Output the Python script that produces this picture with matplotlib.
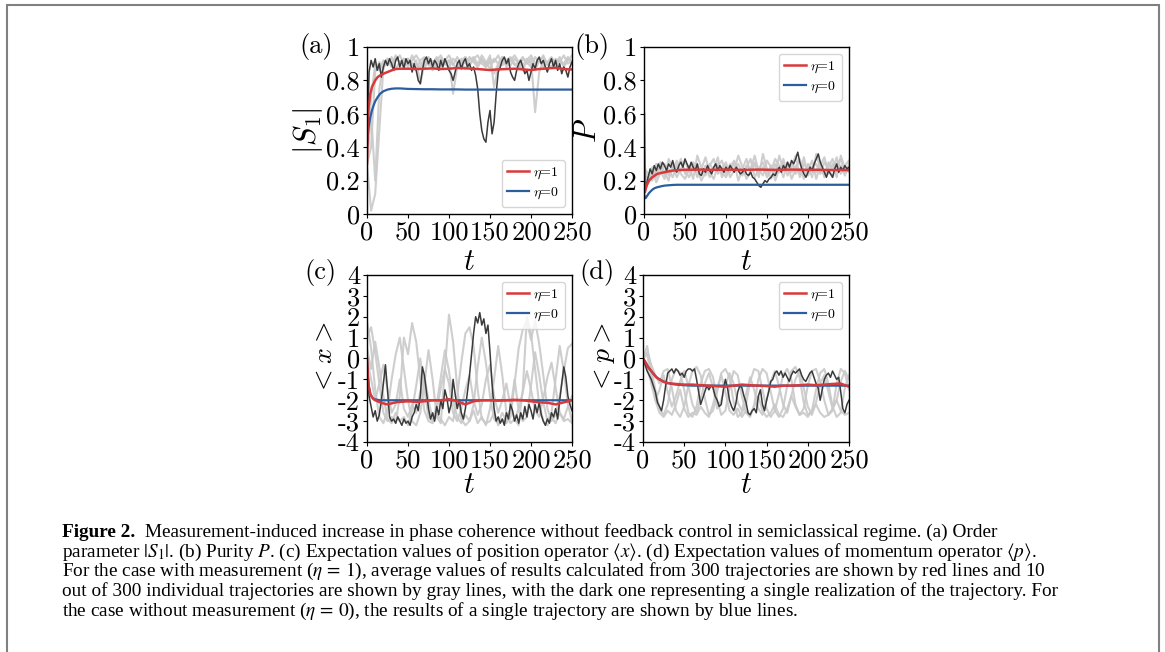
import numpy as np
import matplotlib
matplotlib.use('Agg')
import matplotlib.pyplot as plt
from matplotlib.patches import Rectangle

# ---------------- data ----------------
t_mean = [0, 1, 2, 4, 6, 8, 10, 13, 16, 20, 25, 30, 35, 40,
          50, 60, 70, 80, 90, 100, 110, 120, 130, 140, 150,
          160, 170, 180, 190, 200, 210, 220, 230, 240, 250]

# (a) order parameter |S1|
S1_red = [0.30, 0.55, 0.64, 0.72, 0.76, 0.78, 0.80, 0.82, 0.83, 0.84, 0.85, 0.86, 0.868, 0.87,
          0.87, 0.868, 0.87, 0.872, 0.868, 0.87, 0.874, 0.872, 0.87, 0.866, 0.862,
          0.866, 0.868, 0.87, 0.866, 0.862, 0.868, 0.872, 0.875, 0.868, 0.865]
S1_blue = [0.40, 0.47, 0.52, 0.58, 0.62, 0.65, 0.675, 0.70, 0.72, 0.735, 0.745, 0.75, 0.752, 0.752,
           0.749, 0.748, 0.747, 0.747, 0.746, 0.746, 0.746, 0.745, 0.745, 0.745, 0.745,
           0.745, 0.745, 0.745, 0.745, 0.745, 0.745, 0.745, 0.745, 0.745, 0.745]
S1_dark = [0.35, 0.85, 0.92, 0.88, 0.93, 0.86, 0.90, 0.82, 0.88, 0.92,
           0.89, 0.93, 0.90, 0.86, 0.92, 0.94, 0.88, 0.92, 0.87, 0.93,
           0.90, 0.92, 0.85, 0.90, 0.86, 0.80, 0.78, 0.86, 0.92, 0.94,
           0.90, 0.93, 0.88, 0.92, 0.90, 0.86, 0.92, 0.88, 0.93, 0.90,
           0.86, 0.84, 0.80, 0.85, 0.90, 0.92, 0.87, 0.91, 0.93, 0.88,
           0.90, 0.86, 0.88, 0.83, 0.75, 0.60, 0.50, 0.45, 0.43, 0.55,
           0.62, 0.48, 0.55, 0.72, 0.85, 0.88, 0.92, 0.94, 0.90, 0.93,
           0.85, 0.82, 0.80, 0.86, 0.90, 0.92, 0.88, 0.84, 0.86, 0.80,
           0.85, 0.90, 0.87, 0.92, 0.94, 0.90, 0.92, 0.88, 0.85, 0.90,
           0.93, 0.88, 0.92, 0.86, 0.90, 0.84, 0.88, 0.86, 0.82, 0.88,
           0.91]
S1_gray = [
    [0.30, 0.02, 0.12, 0.50, 0.88, 0.92, 0.90, 0.94, 0.91, 0.88,
     0.93, 0.90, 0.86, 0.92, 0.94, 0.89, 0.91, 0.93, 0.88, 0.90,
     0.92, 0.72, 0.88, 0.93, 0.90, 0.94, 0.91, 0.88, 0.92, 0.90,
     0.95, 0.76, 0.88, 0.92, 0.90, 0.93, 0.89, 0.91, 0.94, 0.90,
     0.93, 0.61, 0.85, 0.92, 0.90, 0.93, 0.88, 0.92, 0.90, 0.94,
     0.91],
    [0.30, 0.60, 0.20, 0.75, 0.90, 0.93, 0.88, 0.92, 0.95, 0.90,
     0.93, 0.89, 0.92, 0.78, 0.90, 0.94, 0.91, 0.88, 0.93, 0.90,
     0.92, 0.89, 0.94, 0.90, 0.87, 0.92, 0.94, 0.90, 0.93, 0.88,
     0.91, 0.84, 0.90, 0.94, 0.92, 0.89, 0.93, 0.90, 0.86, 0.92,
     0.95, 0.90, 0.93, 0.88, 0.91, 0.94, 0.90, 0.92, 0.89, 0.93,
     0.90],
    [0.30, 0.40, 0.85, 0.91, 0.87, 0.93, 0.89, 0.95, 0.90, 0.93,
     0.88, 0.92, 0.95, 0.91, 0.87, 0.93, 0.90, 0.94, 0.89, 0.92,
     0.95, 0.90, 0.87, 0.92, 0.94, 0.89, 0.93, 0.95, 0.90, 0.88,
     0.93, 0.91, 0.95, 0.89, 0.92, 0.94, 0.90, 0.87, 0.93, 0.91,
     0.88, 0.94, 0.91, 0.95, 0.89, 0.92, 0.90, 0.94, 0.88, 0.92,
     0.95],
    [0.30, 0.70, 0.90, 0.86, 0.92, 0.89, 0.94, 0.87, 0.91, 0.93,
     0.89, 0.95, 0.90, 0.88, 0.93, 0.91, 0.86, 0.92, 0.95, 0.90,
     0.88, 0.93, 0.91, 0.87, 0.94, 0.90, 0.92, 0.89, 0.95, 0.91,
     0.87, 0.93, 0.90, 0.94, 0.88, 0.92, 0.95, 0.91, 0.89, 0.93,
     0.90, 0.86, 0.92, 0.94, 0.90, 0.88, 0.93, 0.91, 0.95, 0.90,
     0.92],
]

# (b) purity P
P_red = [0.60, 0.13, 0.15, 0.18, 0.20, 0.21, 0.22, 0.23, 0.24, 0.245, 0.25, 0.255, 0.26, 0.262,
         0.265, 0.265, 0.266, 0.264, 0.265, 0.266, 0.265, 0.264, 0.265, 0.266, 0.265,
         0.264, 0.265, 0.266, 0.265, 0.264, 0.265, 0.264, 0.263, 0.264, 0.262]
P_blue = [0.12, 0.10, 0.095, 0.11, 0.125, 0.135, 0.145, 0.155, 0.16, 0.165, 0.17, 0.172, 0.174, 0.175,
          0.175, 0.175, 0.175, 0.175, 0.175, 0.175, 0.175, 0.175, 0.175, 0.175, 0.175,
          0.175, 0.175, 0.175, 0.175, 0.175, 0.175, 0.175, 0.175, 0.175, 0.175]
P_dark = [0.20, 0.17, 0.22, 0.27, 0.24, 0.29, 0.26, 0.30, 0.27, 0.31,
          0.29, 0.26, 0.30, 0.28, 0.32, 0.27, 0.25, 0.29, 0.31, 0.28,
          0.33, 0.30, 0.27, 0.31, 0.28, 0.26, 0.30, 0.24, 0.23, 0.27,
          0.25, 0.29, 0.26, 0.24, 0.28, 0.30, 0.26, 0.29, 0.27, 0.25,
          0.28, 0.26, 0.29, 0.27, 0.25, 0.28, 0.26, 0.24, 0.25, 0.27,
          0.24, 0.23, 0.25, 0.22, 0.21, 0.19, 0.17, 0.16, 0.18, 0.20,
          0.19, 0.21, 0.22, 0.24, 0.23, 0.26, 0.28, 0.25, 0.29, 0.27,
          0.31, 0.28, 0.32, 0.30, 0.33, 0.37, 0.31, 0.27, 0.24, 0.22,
          0.25, 0.28, 0.26, 0.30, 0.33, 0.36, 0.31, 0.28, 0.25, 0.22,
          0.26, 0.24, 0.22, 0.27, 0.30, 0.25, 0.28, 0.26, 0.29, 0.27,
          0.28]
P_gray = [
    [0.25, 0.20, 0.28, 0.22, 0.31, 0.25, 0.20, 0.30, 0.27, 0.33,
     0.24, 0.29, 0.21, 0.35, 0.28, 0.23, 0.30, 0.26, 0.34, 0.22,
     0.29, 0.25, 0.31, 0.20, 0.27, 0.33, 0.24, 0.30, 0.22, 0.36,
     0.27, 0.21, 0.30, 0.25, 0.33, 0.23, 0.28, 0.35, 0.22, 0.30,
     0.26, 0.32, 0.21, 0.29, 0.34, 0.24, 0.30, 0.22, 0.35, 0.27,
     0.25],
    [0.30, 0.18, 0.24, 0.30, 0.26, 0.21, 0.33, 0.28, 0.22, 0.27,
     0.32, 0.25, 0.30, 0.22, 0.27, 0.34, 0.25, 0.21, 0.29, 0.32,
     0.24, 0.30, 0.26, 0.35, 0.28, 0.21, 0.26, 0.31, 0.27, 0.23,
     0.32, 0.28, 0.24, 0.35, 0.26, 0.30, 0.21, 0.27, 0.33, 0.25,
     0.29, 0.22, 0.36, 0.27, 0.23, 0.31, 0.26, 0.34, 0.24, 0.29,
     0.32],
    [0.20, 0.22, 0.27, 0.19, 0.25, 0.30, 0.23, 0.26, 0.32, 0.24,
     0.21, 0.27, 0.31, 0.26, 0.20, 0.25, 0.29, 0.33, 0.24, 0.27,
     0.31, 0.22, 0.26, 0.30, 0.24, 0.28, 0.33, 0.22, 0.27, 0.31,
     0.24, 0.29, 0.20, 0.27, 0.30, 0.26, 0.32, 0.24, 0.27, 0.21,
     0.30, 0.27, 0.25, 0.31, 0.22, 0.28, 0.33, 0.25, 0.29, 0.23,
     0.30],
    [0.28, 0.24, 0.20, 0.26, 0.29, 0.24, 0.27, 0.22, 0.29, 0.31,
     0.26, 0.22, 0.28, 0.30, 0.24, 0.29, 0.22, 0.27, 0.30, 0.25,
     0.22, 0.28, 0.32, 0.26, 0.23, 0.29, 0.27, 0.35, 0.25, 0.28,
     0.22, 0.26, 0.33, 0.29, 0.22, 0.31, 0.25, 0.29, 0.24, 0.34,
     0.23, 0.28, 0.30, 0.24, 0.31, 0.27, 0.22, 0.30, 0.33, 0.25,
     0.28],
]

# (c) position <x>
X_red = [0.0, -0.8, -1.3, -1.7, -1.85, -1.95, -2.0, -2.05, -2.1, -2.15, -2.2, -2.15, -2.1, -2.08,
         -2.05, -2.08, -2.05, -2.0, -2.0, -1.95, -2.05, -2.2, -2.05, -2.0, -2.0,
         -2.02, -2.0, -1.98, -2.0, -2.05, -2.1, -2.12, -2.2, -2.1, -2.0]
X_blue = [0.0, -0.8, -1.3, -1.7, -1.85, -1.92, -1.96, -1.98, -2.0, -2.0, -2.0, -2.0, -2.0, -2.0,
          -2.0, -2.0, -2.0, -2.0, -2.0, -2.0, -2.0, -2.0, -2.0, -2.0, -2.0,
          -2.0, -2.0, -2.0, -2.0, -2.0, -2.0, -2.0, -2.0, -2.0, -2.0]
X_dark = [-0.3, -1.8, -2.3, -2.8, -2.5, -3.0, -2.7, -2.0, -1.2, -0.3,
          -1.5, -2.8, -3.0, -2.9, -3.1, -2.8, -3.0, -3.2, -2.9, -3.1,
          -3.0, -3.2, -2.8, -2.6, -2.2, -2.5, -1.8, -0.4, -0.8, -1.6,
          -2.4, -2.9, -2.6, -3.0, -2.3, -2.7, -2.0, -2.4, -1.5, -1.9,
          -2.6, -2.2, -1.0, -1.7, -2.4, -2.0, -2.6, -2.9, -2.4, -1.6,
          -0.8, 0.2, 1.2, 2.0, 1.7, 2.2, 1.6, 1.9, 1.2, 1.6,
          0.3, -1.2, -2.4, -3.0, -2.8, -3.1, -2.9, -3.2, -2.6, -2.9,
          -2.2, -2.5, -3.0, -2.7, -3.1, -2.6, -2.9, -2.3, -2.8, -2.2,
          -2.5, -2.9, -2.2, -2.6, -2.1, -2.7, -3.0, -3.2, -2.9, -3.1,
          -2.6, -2.8, -2.4, -2.9, -2.0, -1.2, -0.4, -0.9, -1.8, -2.2,
          -2.5]
X_gray = [
    [1.8, 0.5, -1.5, -2.8, -3.1, -2.5, -1.0, 0.2, 1.0, -0.5,
     -2.0, -3.0, -3.2, -2.6, -1.2, 0.4, -1.0, -2.8, -3.1, -0.5,
     2.1, 0.8, -1.4, -2.9, -3.2, -3.0, -2.5, -3.1, -2.8, -3.2,
     -2.4, -1.0, 0.6, -0.8, -2.6, -3.1, -2.9, -3.2, -1.5, 2.0,
     1.2, -0.5, -2.2, -3.0, -3.2, -2.8, -3.1, -2.6, -3.0, -2.9,
     -3.1],
    [1.0, 1.5, 0.3, -1.2, -2.6, -3.0, -2.8, -3.1, -1.8, 1.0,
     0.2, 1.7, 0.8, -1.0, -2.5, -3.0, -3.1, -2.7, -2.9, -3.2,
     -2.8, -3.0, -1.8, -0.2, 1.2, 1.5, 0.6, -1.5, -2.9, -3.1,
     -3.0, -2.6, -3.2, -2.9, -3.1, -2.8, -1.2, 0.5, 1.4, 1.8,
     0.9, 1.8, 0.7, -0.8, -2.4, -3.0, -2.7, -1.8, -0.6, 0.5,
     0.7],
    [0.0, -1.0, -2.0, -1.2, -0.3, -1.5, -2.6, -2.2, -1.0, -2.4,
     -2.8, -2.2, -2.6, -1.6, -0.8, -2.0, -2.9, -2.5, -1.4, -0.5,
     -1.2, -2.6, -3.0, -2.4, -1.5, -0.8, -2.0, -2.7, -2.2, -1.0,
     -0.3, -1.8, -2.6, -2.0, -1.2, -2.3, -2.9, -2.4, -1.6, -0.6,
     -1.5, -2.5, -2.8, -1.9, -0.9, -0.2, -1.4, -2.6, -2.9, -2.3,
     -1.8],
    [0.5, -0.5, 0.8, -0.4, -1.8, -2.9, -3.1, -2.6, -3.0, -2.8,
     -3.2, -2.5, -1.3, 0.0, -1.5, -2.8, -3.0, -2.2, -0.9, 0.4,
     -0.6, -2.0, -2.8, -3.1, -2.7, -3.0, -2.2, -0.4, 1.0, -0.2,
     -1.8, -2.9, -3.1, -2.6, -3.0, -2.4, -1.0, -2.5, -3.0, -2.8,
     -1.3, 0.3, -0.8, -2.1, -3.0, -2.6, -1.0, 0.6, -0.6, -2.2,
     -3.0],
]

# (d) momentum <p>
Pm_red = [0.0, -0.05, -0.12, -0.25, -0.4, -0.5, -0.6, -0.75, -0.9, -1.0, -1.12, -1.18, -1.2, -1.22,
          -1.25, -1.25, -1.28, -1.3, -1.33, -1.35, -1.3, -1.25, -1.28, -1.3, -1.32,
          -1.35, -1.3, -1.3, -1.28, -1.25, -1.28, -1.25, -1.22, -1.2, -1.35]
Pm_blue = [0.0, -0.05, -0.12, -0.25, -0.4, -0.5, -0.6, -0.75, -0.88, -1.0, -1.1, -1.17, -1.22, -1.25,
           -1.28, -1.3, -1.3, -1.3, -1.3, -1.3, -1.3, -1.3, -1.3, -1.3, -1.3,
           -1.3, -1.3, -1.3, -1.3, -1.3, -1.3, -1.3, -1.3, -1.3, -1.3]
Pm_dark = [0.0, -0.3, -0.6, -0.8, -1.0, -1.3, -1.6, -2.1, -2.3, -2.5,
           -2.0, -1.3, -0.7, -0.6, -0.5, -0.7, -0.5, -0.6, -0.8, -0.7,
           -0.9, -0.6, -0.5, -0.5, -0.6, -0.5, -1.0, -1.6, -2.2, -1.9,
           -1.6, -1.3, -1.5, -1.3, -1.4, -1.8, -2.0, -2.3, -2.2, -1.5,
           -1.0, -1.4, -2.0, -2.3, -2.5, -2.2, -1.6, -1.3, -1.4, -1.8,
           -2.1, -2.6, -2.7, -2.5, -2.4, -2.6, -1.8, -1.5, -2.2, -2.5,
           -2.0, -1.6, -1.1, -1.0, -0.7, -0.6, -0.8, -0.6, -0.9, -0.7,
           -0.9, -1.1, -0.8, -0.6, -0.7, -0.6, -0.5, -0.8, -1.0, -1.1,
           -0.9, -0.7, -0.6, -0.9, -1.2, -1.4, -2.0, -1.5, -1.0, -0.8,
           -0.7, -0.9, -0.6, -0.8, -1.0, -0.9, -1.6, -2.4, -2.6, -2.2,
           -2.0]
Pm_gray = [
    [0.0, 0.6, -0.5, -1.5, -2.4, -2.7, -2.2, -1.0, -0.5, -0.7,
     -1.5, -2.6, -2.8, -2.3, -1.2, -0.6, -0.5, -0.9, -2.0, -2.7,
     -2.5, -1.4, -0.6, -0.8, -1.8, -2.6, -2.8, -2.2, -1.0, -0.5,
     -0.7, -1.6, -2.5, -2.8, -2.4, -1.3, -0.6, -0.4, -0.9, -2.1,
     -2.7, -2.5, -1.5, -0.7, -0.5, -1.2, -2.3, -2.8, -2.6, -1.4,
     -0.8],
    [0.0, 0.3, -0.3, -0.8, -1.2, -0.6, -0.5, -1.4, -2.5, -2.8,
     -2.3, -1.3, -0.6, -0.4, -0.8, -1.9, -2.7, -2.5, -1.6, -0.7,
     -0.5, -0.9, -2.1, -2.8, -2.6, -2.2, -1.1, -0.5, -0.6, -1.5,
     -2.4, -2.8, -2.5, -1.7, -0.8, -0.5, -1.0, -2.2, -2.7, -2.4,
     -1.3, -0.6, -0.5, -1.1, -2.0, -2.7, -2.5, -1.2, -0.5, -0.7,
     -1.5],
    [0.0, -0.4, -1.2, -2.0, -1.5, -0.8, -1.6, -2.3, -1.8, -1.1,
     -0.6, -1.3, -2.2, -2.6, -1.9, -1.2, -0.7, -1.4, -2.4, -2.0,
     -1.3, -0.7, -1.2, -2.1, -2.5, -1.7, -0.9, -1.5, -2.4, -2.7,
     -2.0, -1.1, -0.6, -1.3, -2.2, -2.6, -1.8, -1.0, -0.6, -1.4,
     -2.3, -2.7, -2.1, -1.2, -0.8, -1.6, -2.4, -2.0, -1.1, -0.6,
     -1.0],
    [0.0, 0.2, -0.8, -2.0, -2.6, -2.8, -2.5, -2.7, -2.2, -1.5,
     -2.4, -2.8, -2.6, -2.7, -2.3, -2.6, -2.8, -2.2, -1.4, -0.8,
     -1.6, -2.5, -2.7, -2.4, -2.8, -2.5, -2.7, -2.3, -1.8, -2.5,
     -2.8, -2.6, -2.2, -2.7, -2.8, -2.4, -1.8, -2.3, -2.7, -2.6,
     -2.8, -2.5, -2.2, -2.6, -2.8, -2.7, -2.4, -2.0, -2.5, -2.7,
     -2.6],
]

x_ticks = [0, 50, 100, 150, 200, 250]
x_ticklabels = ['0', '50', '100', '150', '200', '250']
y_ticks_ab = [0, 0.2, 0.4, 0.6, 0.8, 1.0]
y_ticklabels_ab = ['0', '0.2', '0.4', '0.6', '0.8', '1']
y_ticks_cd = [-4, -3, -2, -1, 0, 1, 2, 3, 4]
y_ticklabels_cd = ['-4', '-3', '-2', '-1', '0', '1', '2', '3', '4']
legend_labels = [r'$\eta$=1', r'$\eta$=0']

caption_bold = 'Figure 2.'
caption_lines = [
    'Measurement-induced increase in phase coherence without feedback control in semiclassical regime. (a) Order',
    r'parameter $|S_1|$. (b) Purity $P$. (c) Expectation values of position operator $\langle x\rangle$. (d) Expectation values of momentum operator $\langle p\rangle$.',
    r'For the case with measurement ($\eta\,=\,1$), average values of results calculated from 300 trajectories are shown by red lines and 10',
    'out of 300 individual trajectories are shown by gray lines, with the dark one representing a single realization of the trajectory. For',
    r'the case without measurement ($\eta\,=\,0$), the results of a single trajectory are shown by blue lines.',
]

# ---------------- styling ----------------
plt.rcParams['font.family'] = 'cmr10'
plt.rcParams['mathtext.fontset'] = 'cm'
plt.rcParams['axes.unicode_minus'] = False

W, H = 1165, 652
fig = plt.figure(figsize=(W / 100, H / 100), dpi=100)

RED = '#d8393b'
BLUE = '#2b5e9c'
LGRAY = '#c9c9c9'
DGRAY = '#3a3a3a'


def px_axes(l, t, r, b):
    return fig.add_axes([l / W, 1 - b / H, (r - l) / W, (b - t) / H])


panels = [
    dict(box=(367, 47, 572, 214), gray=S1_gray, dark=S1_dark, red=S1_red, blue=S1_blue,
         ylim=(0, 1), yt=y_ticks_ab, ytl=y_ticklabels_ab, ylabel=r'$|S_1|$', ylab_fs=22,
         ylab_x=308, tag='(a)', tag_xy=(316, 46), loc='lower right', t_y=262),
    dict(box=(644, 47, 849, 214), gray=P_gray, dark=P_dark, red=P_red, blue=P_blue,
         ylim=(0, 1), yt=y_ticks_ab, ytl=y_ticklabels_ab, ylabel=r'$P$', ylab_fs=22,
         ylab_x=588, tag='(b)', tag_xy=(592, 46), loc='upper right', t_y=262),
    dict(box=(367, 275, 572, 442), gray=X_gray, dark=X_dark, red=X_red, blue=X_blue,
         ylim=(-4, 4), yt=y_ticks_cd, ytl=y_ticklabels_cd, ylabel=r'$<$$x$$>$', ylab_fs=20,
         ylab_x=325, tag='(c)', tag_xy=(320, 273), loc='upper right', t_y=485),
    dict(box=(643, 275, 849, 442), gray=Pm_gray, dark=Pm_dark, red=Pm_red, blue=Pm_blue,
         ylim=(-4, 4), yt=y_ticks_cd, ytl=y_ticklabels_cd, ylabel=r'$<$$p$$>$', ylab_fs=20,
         ylab_x=604, tag='(d)', tag_xy=(597, 272), loc='upper right', t_y=485),
]

for p in panels:
    l, t, r, b = p['box']
    ax = px_axes(l, t, r, b)
    for g in p['gray']:
        ax.plot(np.linspace(0, 250, len(g)), g, color=LGRAY, lw=1.5, alpha=0.9)
    ax.plot(np.linspace(0, 250, len(p['dark'])), p['dark'], color=DGRAY, lw=1.1)
    hb, = ax.plot(t_mean, p['blue'], color=BLUE, lw=1.6)
    hr, = ax.plot(t_mean, p['red'], color=RED, lw=1.8)
    ax.set_xlim(0, 250)
    ax.set_ylim(*p['ylim'])
    ax.set_xticks(x_ticks)
    ax.set_xticklabels(x_ticklabels)
    ax.set_yticks(p['yt'])
    ax.set_yticklabels(p['ytl'])
    ax.tick_params(labelsize=19, length=3, width=0.8, pad=2)
    for s in ax.spines.values():
        s.set_linewidth(1.0)
    ax.legend([hr, hb], legend_labels, loc=p['loc'], fontsize=10,
              handlelength=1.6, handletextpad=0.3, borderpad=0.4,
              labelspacing=0.35, framealpha=0.8)
    # y label
    fig.text(p['ylab_x'] / W, 1 - ((t + b) / 2) / H, p['ylabel'], rotation=90,
             ha='center', va='center', fontsize=p['ylab_fs'])
    # x label
    fig.text(((l + r) / 2) / W, 1 - p['t_y'] / H, r'$t$', ha='center', va='center', fontsize=22)
    # panel tag
    fig.text(p['tag_xy'][0] / W, 1 - p['tag_xy'][1] / H, p['tag'], ha='center', va='center',
             fontsize=19)

# border frame (open at the bottom)
fig.add_artist(Rectangle((7 / W, -0.05), (1159 - 7) / W, 1.05 - 5 / H,
                         transform=fig.transFigure, fill=False, edgecolor='#808080', lw=1.5))

# caption
cap_font = dict(family=['Liberation Serif', 'DejaVu Serif'], fontsize=13.9)
baselines = [537, 557, 576, 596, 616]
x0 = 62
tb = fig.text(x0 / W, 1 - baselines[0] / H, caption_bold, va='baseline', ha='left',
              weight='bold', **cap_font)
fig.canvas.draw()
bb = tb.get_window_extent()
fig.text((bb.x1 + 10) / W, 1 - baselines[0] / H, caption_lines[0], va='baseline', ha='left',
         math_fontfamily='stix', **cap_font)
for line, yb in zip(caption_lines[1:], baselines[1:]):
    fig.text(x0 / W, 1 - yb / H, line, va='baseline', ha='left', math_fontfamily='stix', **cap_font)

fig.savefig('out.png', dpi=100)
